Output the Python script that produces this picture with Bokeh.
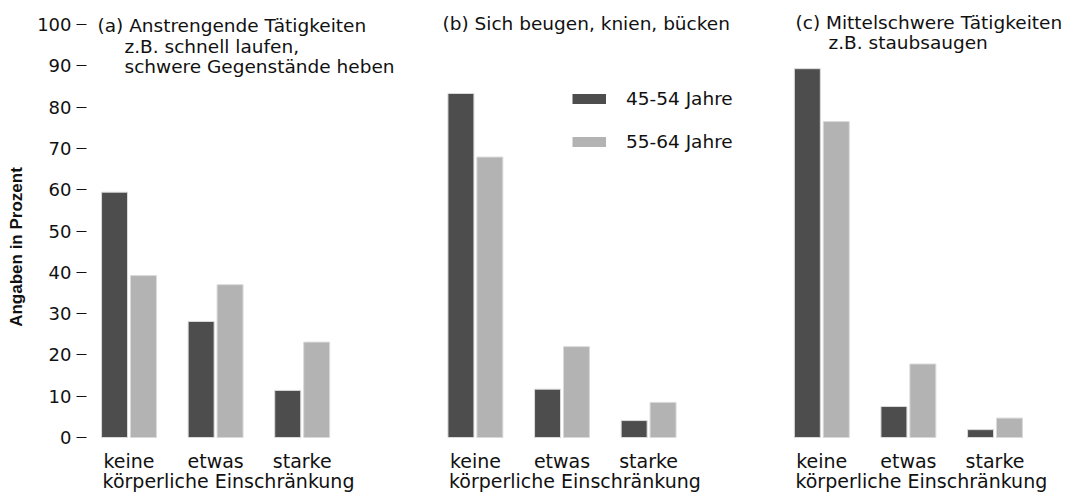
from bokeh.plotting import figure
from bokeh.models import ColumnDataSource, Range1d, FixedTicker, Legend, LegendItem
from bokeh.core.properties import value
from bokeh.embed import file_html
from bokeh.resources import INLINE

# ---------------- data ----------------
categories = ["keine", "etwas", "starke"]
x_caption = "körperliche Einschränkung"
series_names = ["45-54 Jahre", "55-64 Jahre"]

title_a = ["(a) Anstrengende Tätigkeiten", "z.B. schnell laufen,", "schwere Gegenstände heben"]
title_b = ["(b) Sich beugen, knien, bücken"]
title_c = ["(c) Mittelschwere Tätigkeiten", "z.B. staubsaugen"]

a_45_54 = [59.4, 28.1, 11.4]
a_55_64 = [39.2, 37.0, 23.1]
b_45_54 = [83.3, 11.7, 4.1]
b_55_64 = [67.9, 22.0, 8.5]
c_45_54 = [89.3, 7.5, 1.9]
c_55_64 = [76.5, 17.8, 4.7]

y_ticks = [0, 10, 20, 30, 40, 50, 60, 70, 80, 90, 100]
y_label = "Angaben in Prozent"

# ---------------- layout / style ----------------
W, H = 1076, 493
OX, OY = 0, 0        # observed page position of the canvas
LEFT = 86
UNIT = 86.6          # px per group step
X0_PAGE = 128.5      # page x of first group centre
Y0_PAGE = 437.0      # page y of value 0
YPX = 4.13           # px per percent
PANEL_STEP = 4
BAR_W = 0.30
BAR_OFF = 0.167
TXT_SHIFT = 7        # observed baseline offset of text glyphs

DARK = "#4d4d4d"
LIGHT = "#b3b3b3"
EDGE = "#dadada"
FONT = "DejaVu Sans"
FS = "18.5px"
FS_X = "19px"


def dx(page_x):
    return (page_x - X0_PAGE) / UNIT


def dy(page_y):
    return (Y0_PAGE - page_y) / YPX


def ty_(page_y):
    return dy(page_y - TXT_SHIFT)


x_start = dx(OX + LEFT)
x_end = dx(OX + W)
y_start = dy(OY + H)
y_end = dy(OY)

p = figure(width=W, height=H, x_range=Range1d(x_start, x_end), y_range=Range1d(y_start, y_end),
           output_backend="svg", toolbar_location=None, x_axis_location=None, title=None,
           min_border_left=LEFT, min_border_right=0, min_border_top=0, min_border_bottom=0)
p.grid.visible = False
p.outline_line_color = None
p.background_fill_color = "white"

ax = p.yaxis[0]
ax.ticker = FixedTicker(ticks=y_ticks)
ax.axis_line_color = None
ax.major_tick_in = 0
ax.major_tick_out = 10
ax.major_tick_line_color = "#111111"
ax.minor_tick_line_color = None
ax.major_label_standoff = 5
ax.major_label_text_font = FONT
ax.major_label_text_font_size = "18px"
ax.major_label_text_color = "#111111"
ax.axis_label = y_label
ax.axis_label_text_font = "Liberation Sans"
ax.axis_label_text_font_style = "bold"
ax.axis_label_text_font_size = "17px"
ax.axis_label_text_color = "#111111"
ax.axis_label_standoff = 8

young = [a_45_54, b_45_54, c_45_54]
old = [a_55_64, b_55_64, c_55_64]

xs_y, tops_y, xs_o, tops_o = [], [], [], []
for i in range(3):
    for j in range(len(categories)):
        base = PANEL_STEP * i + j
        xs_y.append(base - BAR_OFF)
        tops_y.append(young[i][j])
        xs_o.append(base + BAR_OFF)
        tops_o.append(old[i][j])

src_y = ColumnDataSource(dict(x=xs_y, top=tops_y))
src_o = ColumnDataSource(dict(x=xs_o, top=tops_o))
p.vbar(x="x", top="top", bottom=0, width=BAR_W, source=src_y,
       fill_color=DARK, line_color=EDGE, line_width=1)
p.vbar(x="x", top="top", bottom=0, width=BAR_W, source=src_o,
       fill_color=LIGHT, line_color=EDGE, line_width=1)

# category labels and caption
lab_x, lab_y, lab_t = [], [], []
cap_x, cap_y, cap_t = [], [], []
for i in range(3):
    for j, c in enumerate(categories):
        lab_x.append(PANEL_STEP * i + j)
        lab_y.append(ty_(467))
        lab_t.append(c)
    cap_x.append(PANEL_STEP * i - 0.305)
    cap_y.append(ty_(487))
    cap_t.append(x_caption)

p.text(x=lab_x, y=lab_y, text=lab_t, text_font=value(FONT), text_font_size=value(FS_X),
       text_align="center", text_baseline="alphabetic", text_color="#111111")
p.text(x=cap_x, y=cap_y, text=cap_t, text_font=value(FONT), text_font_size=value(FS_X),
       text_align="left", text_baseline="alphabetic", text_color="#111111")

# panel titles (page positions: left x, baseline y)
title_pos = [
    [(97, 32), (124, 53), (124, 73)],
    [(442, 30)],
    [(795, 29), (828, 49)],
]
tx, tyy, tt = [], [], []
for lines, pos in zip([title_a, title_b, title_c], title_pos):
    for t, (px, py) in zip(lines, pos):
        tx.append(dx(px))
        tyy.append(ty_(py))
        tt.append(t)
p.text(x=tx, y=tyy, text=tt, text_font=value(FONT), text_font_size=value(FS),
       text_align="left", text_baseline="alphabetic", text_color="#111111")

# legend (swatch renderers carry no visible data)
nan = float("nan")
r1 = p.line(x=[nan], y=[nan], line_color=DARK, line_width=10)
r2 = p.line(x=[nan], y=[nan], line_color=LIGHT, line_width=10)
legend = Legend(items=[LegendItem(label=series_names[0], renderers=[r1]),
                       LegendItem(label=series_names[1], renderers=[r2])],
                location=(572 - OX - LEFT, H - (151.5 - OY)), orientation="vertical",
                glyph_width=34, glyph_height=21, label_height=21, spacing=22,
                padding=0, margin=0, border_line_color=None, background_fill_alpha=0,
                label_standoff=20, label_text_font=FONT, label_text_font_size=FS,
                label_text_color="#111111")
p.add_layout(legend)

open("out.html", "w").write(file_html(p, INLINE))
